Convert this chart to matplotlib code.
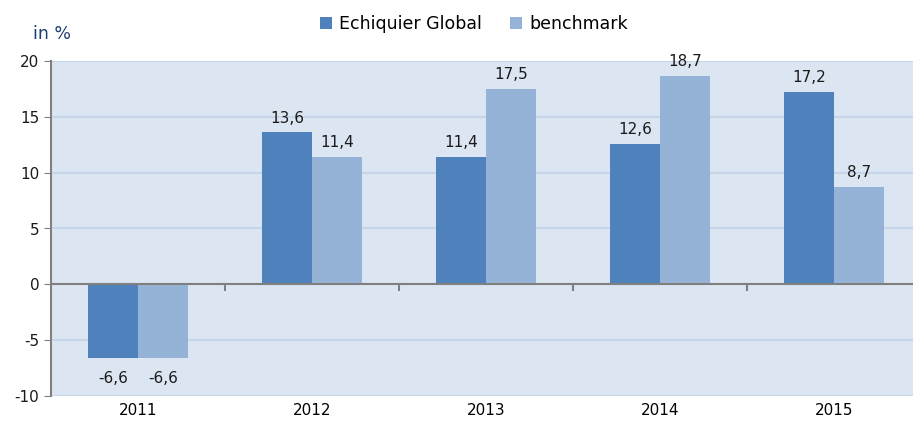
import matplotlib.pyplot as plt
import numpy as np

years = ['2011', '2012', '2013', '2014', '2015']
fund = [-6.6, 13.6, 11.4, 12.6, 17.2]
bench = [-6.6, 11.4, 17.5, 18.7, 8.7]
fund_name = 'Echiquier Global'
bench_name = 'benchmark'

plt.rcParams['font.family'] = ['DejaVu Sans']
plt.rcParams['axes.unicode_minus'] = False

fig = plt.figure(figsize=(9.13, 4.23), dpi=100)
ax = fig.add_axes([51 / 913, 27 / 423, 870 / 913, 335 / 423])
ax.set_facecolor('#dce6f2')

x = np.arange(len(years))
w = 0.287
b1 = ax.bar(x - w / 2, fund, w, color='#4f81bd', label=fund_name, zorder=3)
b2 = ax.bar(x + w / 2, bench, w, color='#95b3d7', label=bench_name, zorder=3)

for bars in (b1, b2):
    for rect in bars:
        v = rect.get_height()
        off = 5 if v >= 0 else -9
        ax.annotate(f'{v:.1f}'.replace('.', ','),
                    (rect.get_x() + rect.get_width() / 2, v),
                    xytext=(0, off), textcoords='offset points',
                    ha='center', va='bottom' if v >= 0 else 'top',
                    fontsize=11, color='#1a1a1a')

ax.set_xlim(-0.5, 4.5)
ax.set_ylim(-10, 20)
ax.set_yticks(range(-10, 21, 5))
ax.tick_params(axis='y', labelsize=11, colors='#1a1a1a', length=5, color='#808080')
ax.yaxis.grid(True, color='#c5d5ea', linewidth=1.5, zorder=0)
ax.set_axisbelow(True)

ax.set_xticks(x)
ax.set_xticklabels(years, fontsize=11)
ax.tick_params(axis='x', length=0, pad=5)

for s in ['top', 'right', 'bottom']:
    ax.spines[s].set_visible(False)
ax.spines['left'].set_color('#808080')
ax.spines['left'].set_linewidth(1.5)
ax.axhline(0, color='#808080', linewidth=1.5, zorder=4)
for xv in np.arange(0.5, 4.5, 1):
    ax.plot([xv, xv], [0, -0.5], color='#808080', linewidth=1.5, zorder=4, clip_on=False)

fig.text(33 / 913, 1 - 34 / 423, 'in %', fontsize=12.5, color='#1f3f73', va='center')
fig.legend(loc='center', bbox_to_anchor=(474 / 913, 1 - 24 / 423), ncol=2, frameon=False,
           fontsize=12.5, handlelength=0.7, handleheight=0.7, columnspacing=1.6,
           handletextpad=0.4)

fig.savefig('out.png', dpi=100)
